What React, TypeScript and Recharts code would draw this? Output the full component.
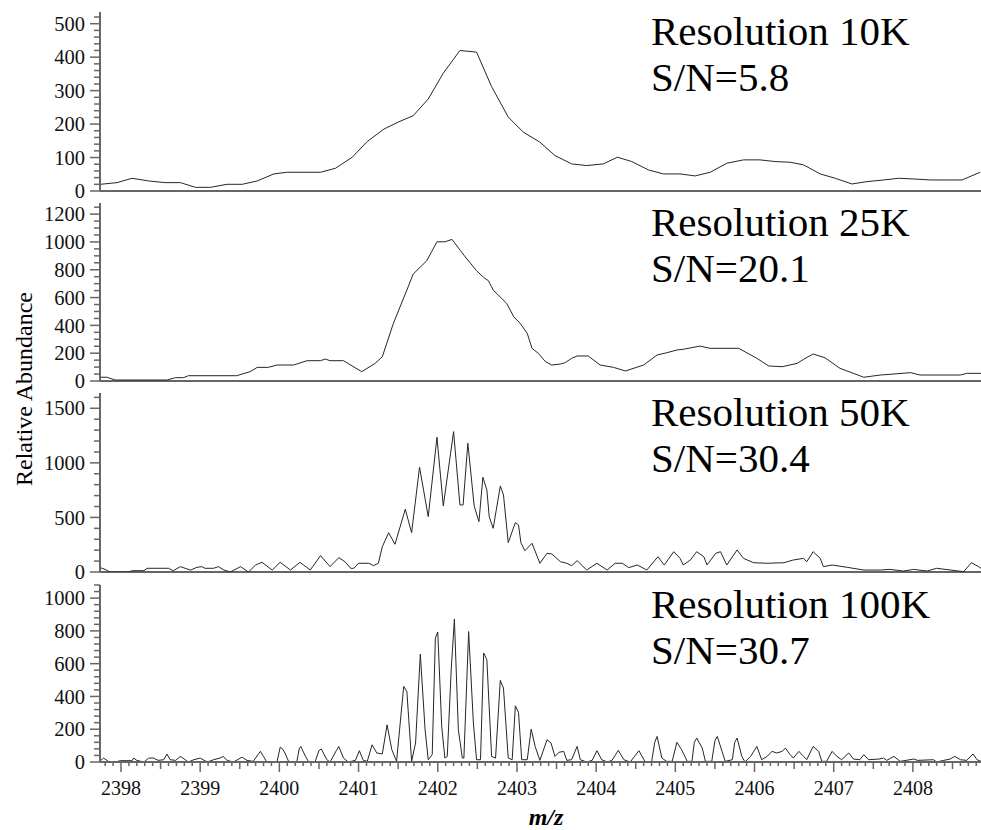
import React from 'react';
import { LineChart, Line, XAxis, YAxis, ReferenceLine } from 'recharts';

const FONT = "'Liberation Serif', 'DejaVu Serif', serif";
const AXIS = '#666666';
const TRACE = '#262626';

const X_MIN = 2397.735;
const X_MAX = 2408.86;
const xMajorTicks = [2398, 2399, 2400, 2401, 2402, 2403, 2404, 2405, 2406, 2407, 2408];

// Resolution 10K
const mz10 = [2397.74, 2397.95, 2398.14, 2398.35, 2398.56, 2398.75, 2398.94, 2399.13, 2399.34, 2399.53, 2399.72, 2399.93, 2400.10, 2400.30, 2400.52, 2400.71, 2400.92, 2401.11, 2401.32, 2401.51, 2401.69, 2401.88, 2402.07, 2402.28, 2402.49, 2402.68, 2402.89, 2403.08, 2403.29, 2403.48, 2403.69, 2403.88, 2404.09, 2404.27, 2404.45, 2404.66, 2404.85, 2405.06, 2405.25, 2405.44, 2405.65, 2405.86, 2406.07, 2406.26, 2406.45, 2406.62, 2406.83, 2407.02, 2407.23, 2407.42, 2407.63, 2407.82, 2408.01, 2408.22, 2408.42, 2408.62, 2408.85];
const ab10 = [20, 25, 38, 30, 25, 25, 11, 11, 20, 20, 30, 51, 56, 56, 56, 68, 101, 148, 185, 207, 225, 275, 352, 420, 415, 312, 221, 176, 146, 106, 81, 76, 81, 101, 88, 63, 51, 51, 45, 56, 83, 93, 93, 88, 86, 78, 51, 38, 21, 28, 33, 38, 36, 33, 33, 33, 56];
const yTicks10 = [0, 100, 200, 300, 400, 500];

// Resolution 25K
const mz25 = [2397.74, 2397.82, 2397.93, 2398.58, 2398.69, 2398.79, 2398.85, 2399.46, 2399.63, 2399.72, 2399.86, 2399.97, 2400.18, 2400.35, 2400.52, 2400.58, 2400.64, 2400.81, 2401.04, 2401.21, 2401.30, 2401.44, 2401.61, 2401.69, 2401.86, 2401.99, 2402.09, 2402.18, 2402.33, 2402.49, 2402.58, 2402.64, 2402.70, 2402.87, 2402.96, 2403.04, 2403.13, 2403.19, 2403.27, 2403.36, 2403.44, 2403.55, 2403.61, 2403.69, 2403.76, 2403.90, 2404.05, 2404.22, 2404.37, 2404.60, 2404.77, 2404.89, 2405.02, 2405.10, 2405.31, 2405.44, 2405.80, 2406.03, 2406.18, 2406.35, 2406.54, 2406.62, 2406.74, 2406.89, 2407.08, 2407.38, 2407.59, 2407.71, 2407.97, 2408.09, 2408.60, 2408.68, 2408.86];
const ab25 = [27, 27, 7, 7, 24, 24, 38, 38, 67, 98, 98, 115, 115, 146, 146, 158, 146, 146, 67, 127, 175, 415, 654, 769, 864, 1001, 1001, 1018, 905, 793, 745, 721, 654, 558, 462, 415, 343, 235, 199, 139, 115, 122, 132, 163, 180, 180, 115, 98, 72, 115, 187, 203, 223, 228, 251, 235, 235, 163, 108, 103, 127, 156, 194, 167, 91, 27, 43, 48, 60, 43, 43, 55, 55];
const yTicks25 = [0, 200, 400, 600, 800, 1000, 1200];

// Resolution 50K
const mz50 = [2397.74, 2397.80, 2397.86, 2398.10, 2398.14, 2398.29, 2398.33, 2398.60, 2398.66, 2398.75, 2398.81, 2398.88, 2398.96, 2399.02, 2399.06, 2399.17, 2399.23, 2399.30, 2399.38, 2399.51, 2399.61, 2399.70, 2399.78, 2399.91, 2400.01, 2400.14, 2400.26, 2400.39, 2400.52, 2400.64, 2400.75, 2400.83, 2400.90, 2400.94, 2401.00, 2401.13, 2401.19, 2401.25, 2401.30, 2401.38, 2401.46, 2401.59, 2401.67, 2401.77, 2401.88, 2401.99, 2402.07, 2402.20, 2402.28, 2402.32, 2402.38, 2402.46, 2402.52, 2402.57, 2402.62, 2402.65, 2402.70, 2402.79, 2402.83, 2402.89, 2402.98, 2403.02, 2403.05, 2403.10, 2403.19, 2403.29, 2403.38, 2403.44, 2403.55, 2403.63, 2403.69, 2403.76, 2403.88, 2404.01, 2404.14, 2404.24, 2404.33, 2404.41, 2404.52, 2404.64, 2404.78, 2404.86, 2404.92, 2404.98, 2405.06, 2405.10, 2405.19, 2405.27, 2405.36, 2405.40, 2405.51, 2405.57, 2405.65, 2405.78, 2405.86, 2405.99, 2406.16, 2406.37, 2406.49, 2406.62, 2406.66, 2406.74, 2406.83, 2406.87, 2406.98, 2407.17, 2407.38, 2407.59, 2407.71, 2407.88, 2408.01, 2408.18, 2408.30, 2408.64, 2408.74, 2408.83, 2408.86];
const ab50 = [40, 24, 0, 0, 12, 12, 34, 34, 12, 49, 34, 18, 43, 49, 34, 34, 49, 18, 0, 49, 0, 64, 89, 18, 89, 18, 89, 18, 150, 49, 131, 94, 34, 34, 80, 80, 58, 80, 232, 360, 254, 575, 360, 960, 507, 1235, 605, 1286, 614, 614, 1180, 605, 461, 868, 752, 507, 400, 788, 706, 269, 452, 431, 269, 195, 263, 80, 171, 165, 94, 80, 58, 104, 18, 80, 18, 80, 80, 40, 64, 18, 140, 64, 125, 186, 125, 64, 110, 186, 140, 64, 171, 186, 64, 202, 125, 85, 80, 85, 110, 125, 94, 186, 125, 49, 64, 43, 18, 18, 24, 9, 24, 9, 34, 3, 85, 49, 34];
const yTicks50 = [0, 500, 1000, 1500];

// Resolution 100K
const mz100 = [2397.74, 2397.78, 2397.84, 2397.93, 2397.99, 2398.14, 2398.16, 2398.20, 2398.29, 2398.35, 2398.41, 2398.47, 2398.54, 2398.58, 2398.62, 2398.69, 2398.75, 2398.81, 2398.85, 2398.92, 2399.00, 2399.09, 2399.17, 2399.25, 2399.29, 2399.34, 2399.42, 2399.53, 2399.59, 2399.67, 2399.73, 2399.76, 2399.80, 2399.84, 2399.97, 2400.01, 2400.04, 2400.07, 2400.12, 2400.22, 2400.25, 2400.27, 2400.33, 2400.37, 2400.45, 2400.50, 2400.53, 2400.60, 2400.64, 2400.72, 2400.75, 2400.81, 2400.87, 2400.96, 2401.01, 2401.06, 2401.11, 2401.17, 2401.23, 2401.30, 2401.36, 2401.42, 2401.48, 2401.57, 2401.61, 2401.67, 2401.72, 2401.78, 2401.84, 2401.88, 2401.93, 2401.97, 2402.00, 2402.05, 2402.09, 2402.12, 2402.17, 2402.21, 2402.26, 2402.31, 2402.33, 2402.39, 2402.45, 2402.49, 2402.54, 2402.58, 2402.62, 2402.68, 2402.73, 2402.79, 2402.83, 2402.89, 2402.94, 2402.98, 2403.02, 2403.06, 2403.13, 2403.18, 2403.23, 2403.29, 2403.38, 2403.43, 2403.48, 2403.53, 2403.59, 2403.63, 2403.69, 2403.76, 2403.80, 2403.88, 2403.95, 2404.01, 2404.07, 2404.14, 2404.20, 2404.28, 2404.35, 2404.43, 2404.54, 2404.62, 2404.70, 2404.74, 2404.77, 2404.83, 2404.89, 2404.96, 2405.02, 2405.08, 2405.15, 2405.21, 2405.24, 2405.27, 2405.34, 2405.38, 2405.46, 2405.50, 2405.53, 2405.59, 2405.63, 2405.72, 2405.75, 2405.78, 2405.84, 2405.88, 2405.95, 2406.03, 2406.09, 2406.16, 2406.22, 2406.28, 2406.35, 2406.39, 2406.45, 2406.49, 2406.56, 2406.62, 2406.66, 2406.74, 2406.81, 2406.85, 2406.91, 2406.98, 2407.04, 2407.10, 2407.19, 2407.25, 2407.33, 2407.38, 2407.44, 2407.57, 2407.63, 2407.67, 2407.76, 2407.84, 2408.01, 2408.06, 2408.26, 2408.30, 2408.39, 2408.47, 2408.53, 2408.60, 2408.68, 2408.76, 2408.81, 2408.86];
const ab100 = [8, 24, 4, 0, 8, 8, 24, 10, 0, 24, 24, 10, 14, 49, 14, 10, 34, 14, 0, 14, 24, 0, 14, 24, 34, 10, 0, 30, 10, 4, 45, 65, 34, 0, 0, 90, 80, 55, 0, 0, 80, 95, 34, 0, 0, 70, 79, 14, 0, 70, 95, 24, 0, 10, 69, 10, 4, 105, 55, 49, 227, 75, 4, 461, 430, 4, 116, 658, 197, 14, 45, 756, 793, 217, 24, 34, 563, 872, 197, 24, 24, 796, 238, 14, 14, 665, 624, 34, 24, 498, 451, 24, 14, 343, 302, 14, 14, 201, 95, 10, 136, 116, 34, 59, 65, 10, 14, 95, 14, 0, 10, 69, 14, 0, 10, 71, 14, 0, 69, 0, 0, 120, 156, 24, 4, 4, 120, 75, 4, 4, 120, 146, 85, 4, 4, 130, 156, 65, 4, 14, 120, 146, 34, 0, 34, 95, 14, 34, 65, 55, 65, 85, 45, 24, 65, 34, 14, 95, 65, 4, 4, 65, 34, 14, 55, 18, 14, 45, 14, 18, 24, 10, 34, 4, 18, 10, 14, 0, 10, 18, 34, 14, 10, 49, 14, 4];
const yTicks100 = [0, 200, 400, 600, 800, 1000];

const xTicks: number[] = [];
for (let k = 0; k <= 110; k++) xTicks.push(Math.round((2397.8 + k * 0.1) * 10) / 10);

function minorTicks(max: number, step: number) {
  const out: number[] = [];
  for (let v = 0; v <= max + 1e-9; v += step) out.push(Math.round(v));
  return out;
}

const panels = [
  { key: 'p10', mz: mz10, ab: ab10, major: yTicks10, yMax: 535, yMinor: 20, top: 12, bottom: 191, title: 'Resolution 10K', sn: 'S/N=5.8' },
  { key: 'p25', mz: mz25, ab: ab25, major: yTicks25, yMax: 1280, yMinor: 50, top: 203, bottom: 381, title: 'Resolution 25K', sn: 'S/N=20.1' },
  { key: 'p50', mz: mz50, ab: ab50, major: yTicks50, yMax: 1640, yMinor: 100, top: 393, bottom: 572, title: 'Resolution 50K', sn: 'S/N=30.4' },
  { key: 'p100', mz: mz100, ab: ab100, major: yTicks100, yMax: 1080, yMinor: 40, top: 585, bottom: 762, title: 'Resolution 100K', sn: 'S/N=30.7' },
];

const textStyle = { fontFamily: FONT };

const YTick = (props: any) => {
  const { x, y, payload, major } = props;
  const v = payload.value;
  const isMajor = major.indexOf(v) >= 0;
  return (
    <g>
      <line x1={x - (isMajor ? 10 : 6)} x2={x} y1={y} y2={y} stroke={AXIS} strokeWidth={1.5} />
      {isMajor && (
        <text x={x - 15} y={y} dy="0.35em" textAnchor="end" fontSize={20.5} style={textStyle} fill="#111">
          {v}
        </text>
      )}
    </g>
  );
};

const XTick = (props: any) => {
  const { x, y, payload } = props;
  const v = payload.value;
  const r = Math.round(v);
  const isMajor = Math.abs(v - r) < 1e-6;
  const isHalf = Math.abs(v * 2 - Math.round(v * 2)) < 1e-6;
  const len = isMajor ? 10 : isHalf ? 7 : 4;
  return (
    <g>
      <line x1={x} x2={x} y1={y} y2={y + len} stroke={AXIS} strokeWidth={1.5} />
      {isMajor && (
        <text x={x} y={y + 33} textAnchor="middle" fontSize={20} style={textStyle} fill="#111">
          {r}
        </text>
      )}
    </g>
  );
};

function Panel({ p, last }: { p: any; last: boolean }) {
  const PAD = 8;
  const BPAD = 14;
  const XH = 68;
  const plotH = p.bottom - p.top;
  const height = PAD + plotH + (last ? XH : BPAD);
  const data = p.mz.map((m: number, i: number) => ({ mz: m, ab: p.ab[i] }));
  const yt = minorTicks(p.yMax, p.yMinor);
  return (
    <div style={{ position: 'absolute', left: 0, top: p.top - PAD }}>
      <LineChart width={981} height={height} data={data} margin={{ top: PAD, right: 0, bottom: last ? 0 : BPAD, left: 0 }}>
        <XAxis
          dataKey="mz"
          type="number"
          domain={[X_MIN, X_MAX]}
          allowDataOverflow
          hide={!last}
          ticks={xTicks}
          interval={0}
          tickSize={0}
          tickMargin={0}
          tickLine={false}
          height={XH}
          axisLine={{ stroke: AXIS, strokeWidth: 2 }}
          tick={(tp: any) => <XTick {...tp} />}
        />
        <YAxis
          type="number"
          domain={[0, p.yMax]}
          allowDataOverflow
          ticks={yt}
          interval={0}
          width={100}
          tickSize={0}
          tickMargin={0}
          tickLine={false}
          axisLine={{ stroke: AXIS, strokeWidth: 2 }}
          tick={(tp: any) => <YTick {...tp} major={p.major} />}
        />
        {!last && <ReferenceLine y={0} stroke={AXIS} strokeWidth={2} />}
        <Line dataKey="ab" type="linear" stroke={TRACE} strokeWidth={1} dot={false} isAnimationActive={false} />
      </LineChart>
    </div>
  );
}

export default function App() {
  return (
    <div style={{ position: 'absolute', left: 0, top: 0, width: 981, height: 830, background: '#fff', overflow: 'hidden', fontFamily: FONT }}>
      {panels.map((p, i) => (
        <Panel key={p.key} p={p} last={i === panels.length - 1} />
      ))}
      <svg width={981} height={830} style={{ position: 'absolute', left: 0, top: 0, pointerEvents: 'none' }}>
        {panels.map((p) => (
          <g key={p.key + 't'}>
            <text x={651} y={p.top + 33} fontSize={41} style={textStyle} fill="#000">{p.title}</text>
            <text x={651} y={p.top + 79} fontSize={41} style={textStyle} fill="#000">{p.sn}</text>
          </g>
        ))}
        <text transform="translate(32, 389) rotate(-90)" textAnchor="middle" fontSize={24} style={textStyle} fill="#000">
          Relative Abundance
        </text>
        <text x={546} y={825} textAnchor="middle" fontSize={24} fontWeight="bold" fontStyle="italic" style={textStyle} fill="#000">
          m/z
        </text>
      </svg>
    </div>
  );
}
